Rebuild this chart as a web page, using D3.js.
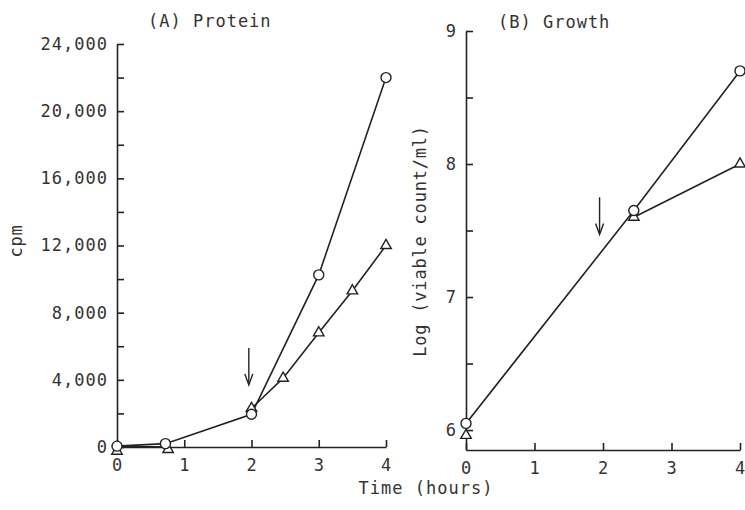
<!DOCTYPE html>
<html>
<head>
<meta charset="utf-8">
<script src="https://cdn.jsdelivr.net/npm/d3@7"></script>
<style>
  body { margin: 0; background: #fff; }
  svg text { font-family: "DejaVu Sans Mono", monospace; fill: #333; }
</style>
</head>
<body>
<div id="chart"></div>
<script>
// panel A: protein (cpm)
var proteinCircleT = [0, 0.72, 2, 3, 4];
var proteinCircle = [50, 200, 1950, 10250, 22000];
var proteinTriT = [0, 0.76, 2, 2.47, 3, 3.5, 4];
var proteinTri = [-250, -150, 2300, 4100, 6800, 9300, 12000];
var proteinTicks = [0, 4000, 8000, 12000, 16000, 20000, 24000];
var proteinMinor = [2000, 6000, 10000, 14000, 18000, 22000];

// panel B: growth (log viable count/ml)
var growthCircleT = [0, 2.45, 4];
var growthCircle = [6.05, 7.65, 8.7];
var growthTriT = [0, 2.45, 4];
var growthTri = [5.96, 7.6, 8.0];
var growthTicks = [6, 7, 8, 9];
var growthMinor = [6.5, 7.5, 8.5];

var timeTicks = [0, 1, 2, 3, 4];
// arrows: [time, from, to]
var arrowA = [1.96, 5900, 3700];
var arrowB = [1.95, 7.75, 7.47];

var W = 745, H = 510;
var ink = '#222';

var svg = d3.select('#chart').append('svg')
    .attr('width', W)
    .attr('height', H);

function drawPanel(opt) {
    var x = d3.scaleLinear().domain([0, 4]).range(opt.xr);
    var y = d3.scaleLinear().domain(opt.yd).range(opt.yr);
    var g = svg.append('g');

    // y axis, majors with labels
    g.append('g')
        .attr('transform', 'translate(' + opt.xr[0] + ',0)')
        .call(d3.axisLeft(y).tickValues(opt.major).tickSize(-7).tickSizeOuter(0)
            .tickPadding(9).tickFormat(opt.fmt));
    g.append('g')
        .attr('transform', 'translate(' + opt.xr[0] + ',0)')
        .call(d3.axisLeft(y).tickValues(opt.minor).tickSize(-7).tickFormat(''))
        .select('.domain').remove();

    // x axis
    var xAx = g.append('g')
        .attr('transform', 'translate(0,' + opt.xAxisY + ')')
        .call(d3.axisBottom(x).tickValues(timeTicks).tickSize(-7).tickSizeOuter(0)
            .tickPadding(12).tickFormat(d3.format('d')));

    g.selectAll('.domain').attr('stroke', ink).attr('stroke-width', 1.6);
    g.selectAll('.tick line').attr('stroke', ink).attr('stroke-width', 1.6);
    g.selectAll('.tick text')
        .style('font-family', '"DejaVu Sans Mono", monospace')
        .style('font-size', '17px')
        .style('letter-spacing', '1px')
        .attr('fill', '#333');
    xAx.selectAll('.tick text').attr('dy', '0.71em');

    // lines (the triangle curve shares the circle line until it splits off)
    var line = d3.line()
        .x(function (d) { return x(d[0]); })
        .y(function (d) { return y(d[1]); });
    var circ = opt.cT.map(function (t, i) { return [t, opt.c[i]]; });
    var tri = opt.tT.map(function (t, i) { return [t, opt.t[i]]; });

    g.append('path').datum(circ).attr('d', line)
        .attr('fill', 'none').attr('stroke', ink).attr('stroke-width', 1.6);
    g.append('path').datum(tri.slice(opt.triFrom)).attr('d', line)
        .attr('fill', 'none').attr('stroke', ink).attr('stroke-width', 1.6);
    if (opt.baseRun) {
        // both curves run along the baseline at first
        g.append('path').datum([[0, 0], [opt.cT[1], 0]]).attr('d', line)
            .attr('fill', 'none').attr('stroke', ink).attr('stroke-width', 2.2);
    }

    // markers
    g.selectAll('.tri').data(tri).enter().append('path')
        .attr('class', 'tri')
        .attr('d', d3.symbol().type(d3.symbolTriangle).size(48))
        .attr('transform', function (d) { return 'translate(' + x(d[0]) + ',' + y(d[1]) + ')'; })
        .attr('fill', '#fff').attr('stroke', ink).attr('stroke-width', 1.4);
    g.selectAll('.circ').data(circ).enter().append('circle')
        .attr('class', 'circ')
        .attr('cx', function (d) { return x(d[0]); })
        .attr('cy', function (d) { return y(d[1]); })
        .attr('r', 5)
        .attr('fill', '#fff').attr('stroke', ink).attr('stroke-width', 1.4);

    // arrow
    var ax = x(opt.arrow[0]), ay1 = y(opt.arrow[1]), ay2 = y(opt.arrow[2]);
    g.append('line')
        .attr('x1', ax).attr('x2', ax).attr('y1', ay1).attr('y2', ay2 - 2)
        .attr('stroke', ink).attr('stroke-width', 1.4);
    g.append('path')
        .attr('d', 'M' + (ax - 4) + ',' + (ay2 - 11) + 'L' + ax + ',' + ay2 + 'L' + (ax + 4) + ',' + (ay2 - 11))
        .attr('fill', 'none').attr('stroke', ink).attr('stroke-width', 1.4);

    // title
    g.append('text')
        .attr('x', opt.titleX).attr('y', opt.titleY)
        .style('font-size', '17px')
        .style('letter-spacing', '1px')
        .text(opt.title);

    // y label
    g.append('text')
        .attr('transform', 'translate(' + opt.ylabX + ',' + opt.ylabY + ') rotate(-90)')
        .attr('text-anchor', 'middle')
        .style('font-size', '17px')
        .style('letter-spacing', '0.8px')
        .text(opt.ylab);
}

drawPanel({
    xr: [117, 386], yd: [0, 24000], yr: [447, 44], xAxisY: 447,
    major: proteinTicks, minor: proteinMinor, fmt: d3.format(','),
    cT: proteinCircleT, c: proteinCircle, tT: proteinTriT, t: proteinTri,
    triFrom: 2, baseRun: true,
    arrow: arrowA,
    title: '(A) Protein', titleX: 148, titleY: 27,
    ylab: 'cpm', ylabX: 22, ylabY: 241
});

drawPanel({
    xr: [466, 740], yd: [5.85, 9], yr: [450, 31], xAxisY: 450,
    major: growthTicks, minor: growthMinor, fmt: d3.format('d'),
    cT: growthCircleT, c: growthCircle, tT: growthTriT, t: growthTri,
    triFrom: 1, baseRun: false,
    arrow: arrowB,
    title: '(B) Growth', titleX: 498, titleY: 28,
    ylab: 'Log (viable count/ml)', ylabX: 426, ylabY: 241
});

svg.append('text')
    .attr('x', 426).attr('y', 494)
    .attr('text-anchor', 'middle')
    .style('font-size', '17px')
    .style('letter-spacing', '1px')
    .text('Time (hours)');
</script>
</body>
</html>
